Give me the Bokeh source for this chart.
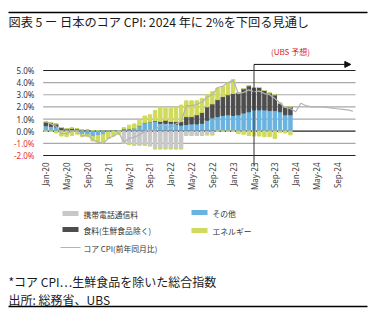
import numpy as np
from bokeh.plotting import figure
from bokeh.models import Range1d, ColumnDataSource, Arrow, NormalHead
from bokeh.embed import file_html
from bokeh.resources import INLINE
from bokeh.core.properties import value

# ---------------- data ----------------
month_names = ["Jan", "Feb", "Mar", "Apr", "May", "Jun", "Jul", "Aug", "Sep", "Oct", "Nov", "Dec"]
years = ["20", "21", "22", "23", "24"]
months = [f"{m}-{y}" for y in years for m in month_names]
shown_labels = ["Jan-20", "May-20", "Sep-20", "Jan-21", "May-21", "Sep-21", "Jan-22", "May-22",
                "Sep-22", "Jan-23", "May-23", "Sep-23", "Jan-24", "May-24", "Sep-24"]

series_names = ["携帯電話通信料", "その他", "食料(生鮮食品除く)", "エネルギー"]
line_name = "コア CPI(前年同月比)"

mobile = [0, 0, 0, 0, 0, 0, 0, 0, 0, 0, 0, 0,
          0, 0, 0, -1.0, -1.1, -1.15, -1.15, -1.15, -1.2, -1.45, -1.45, -1.45,
          -1.45, -1.45, -1.45, -0.35, -0.35, -0.35, -0.35, -0.3, -0.3, 0, 0, 0,
          0, 0, 0, 0, 0, 0, 0, 0, 0, 0, 0, 0]
other = [0.45, 0.4, 0.35, 0.1, 0.05, 0.1, 0.05, -0.25, -0.3, -0.45, -0.35, -0.3,
         -0.1, -0.05, 0.05, 0.2, 0.2, 0.25, 0.45, 0.7, 0.75, 0.8, 0.65, 0.65,
         0.65, 0.55, 0.5, 0.55, 0.6, 0.6, 0.65, 0.9, 1.1, 1.2, 1.3, 1.35,
         1.3, 1.35, 1.5, 1.6, 1.75, 1.75, 1.75, 1.7, 1.7, 1.6, 1.35, 1.35]
food = [0.3, 0.3, 0.25, 0.2, 0.15, 0.15, 0.15, 0.1, 0.1, 0.05, 0.05, 0.0,
        0.0, 0.0, 0.0, 0.0, 0.0, 0.0, 0.0, 0.0, 0.0, 0.05, 0.15, 0.25,
        0.15, 0.25, 0.3, 0.65, 0.6, 0.75, 0.9, 1.1, 1.15, 1.4, 1.55, 1.65,
        1.8, 1.8, 2.0, 2.15, 1.85, 1.85, 1.6, 1.45, 1.3, 0.7, 0.65, 0.65]
energy = [0.05, 0.0, -0.15, -0.4, -0.45, -0.35, -0.25, -0.2, -0.15, -0.35, -0.55, -0.6,
          -0.5, -0.35, -0.25, 0.1, 0.3, 0.35, 0.45, 0.55, 0.6, 0.85, 1.2, 1.0,
          1.1, 1.2, 1.35, 1.3, 1.3, 1.15, 1.15, 1.0, 1.0, 0.95, 0.85, 1.0,
          1.15, -0.2, -0.25, -0.35, -0.4, -0.4, -0.45, -0.45, -0.6, -0.1, -0.15, -0.3]
core_cpi = [0.8, 0.6, 0.4, -0.2, -0.2, 0.0, 0.0, -0.4, -0.3, -0.7, -0.9, -1.0,
            -0.6, -0.4, -0.1, -0.9, -0.6, -0.5, -0.3, 0.0, 0.1, 0.1, 0.5, 0.5,
            0.2, 0.6, 0.8, 2.1, 2.1, 2.2, 2.4, 2.8, 3.0, 3.6, 3.7, 4.0,
            4.2, 3.1, 3.2, 3.4, 3.25, 3.3, 3.1, 3.0, 2.7, 2.3, 1.95, 1.85,
            1.6, 2.3, 2.1, 2.0, 2.0, 2.0, 1.95, 1.9, 1.85, 1.8, 1.75, 1.65]

y_ticks = [-2, -1, 0, 1, 2, 3, 4, 5]
y_tick_labels = ["-2.0%", "-1.0%", "0.0%", "1.0%", "2.0%", "3.0%", "4.0%", "5.0%"]
forecast_start = "May-23"
forecast_label = "(UBS 予想)"
forecast_label_month = "Dec-23"

title_text = "図表 5 ー 日本のコア CPI: 2024 年に 2%を下回る見通し"
note_text = "*コア CPI…生鮮食品を除いた総合指数"
source_text = "出所: 総務省、UBS"

# ---------------- style / layout ----------------
C_MOBILE = "#c8c8c8"
C_OTHER = "#69b3e0"
C_FOOD = "#4d4d4d"
C_ENERGY = "#d0da5c"
C_LINE = "#b4b4b4"
JP = "Noto Sans CJK JP"
LAT = "Noto Sans"
W, H = 387, 321

# page-pixel placement of the plot area (one frame covers the whole canvas)
X0, DX = 45.3, 5.205     # page x of first month's centre, px per month
Y0, DY = 130.7, 12.143   # page y of 0 %, px per 1 %


def cx(px):
    return (px - X0) / DX


def cy(py):
    return (Y0 - py) / DY


idx = {m: i for i, m in enumerate(months)}
n_act = len(mobile)
comp = {"mobile": np.array(mobile), "other": np.array(other),
        "food": np.array(food), "energy": np.array(energy)}
data = {"x": list(range(n_act))}
for k, v in comp.items():
    data["pos_" + k] = np.clip(v, 0, None)
    data["neg_" + k] = np.clip(v, None, 0)
src = ColumnDataSource(data)

p = figure(width=W, height=H, x_range=Range1d(cx(0), cx(W)), y_range=Range1d(cy(H), cy(0)),
           x_axis_type=None, y_axis_type=None, output_backend="svg",
           toolbar_location=None, min_border=0)
p.title.visible = False
p.outline_line_color = None
p.grid.visible = False

# ---- horizontal rules: chart grid lines plus the page's top and bottom rules
left_edge, right_edge = -0.5, len(months) - 0.5
dark = [t in (-2, 0, 5) for t in y_ticks]
rule_x0 = [left_edge] * len(y_ticks) + [cx(8), cx(8)]
rule_x1 = [right_edge] * len(y_ticks) + [cx(367), cx(367)]
rule_y = list(y_ticks) + [cy(12), cy(306)]
rule_c = ["#222222" if d else "#a8a8a8" for d in dark] + ["#000000", "#000000"]
rule_w = [1.2] * len(y_ticks) + [1.4, 1.4]
p.segment(x0=rule_x0, x1=rule_x1, y0=rule_y, y1=rule_y, line_color=rule_c, line_width=rule_w)

# ---- title
p.text(x=[cx(8)], y=[cy(21.5)], text=[title_text], text_baseline="middle", text_align="left",
       text_font=value(JP), text_font_size=value("12.2px"), text_color="#1a1a1a")

# ---- bars
p.vbar_stack(["pos_other", "pos_food", "pos_energy"], x="x", width=0.66,
             color=[C_OTHER, C_FOOD, C_ENERGY], source=src)
p.vbar_stack(["neg_other", "neg_food", "neg_mobile", "neg_energy"], x="x", width=0.66,
             color=[C_OTHER, C_FOOD, C_MOBILE, C_ENERGY], source=src)

# ---- core CPI line
p.line(x=list(range(len(months))), y=core_cpi, line_color=C_LINE, line_width=1.2)

# ---- forecast marker
fx = idx[forecast_start]
p.segment(x0=[fx], y0=[5.5], x1=[fx], y1=[cy(166)], line_color="#333333", line_width=1)
p.add_layout(Arrow(end=NormalHead(size=6, fill_color="#111111", line_color="#111111"),
                   x_start=fx, y_start=5.5, x_end=idx["Nov-24"] + 0.6, y_end=5.5,
                   line_color="#111111", line_width=1))
p.text(x=[idx[forecast_label_month]], y=[6.55], text=[forecast_label], text_align="center",
       text_baseline="middle", text_font=value(JP), text_font_size=value("8px"),
       text_color="#d9261c")

# ---- y tick labels
p.text(x=[cx(34)] * len(y_ticks), y=y_ticks, text=y_tick_labels, text_align="right",
       text_baseline="middle", text_font=value(LAT), text_font_size=value("8px"),
       text_color=["#e8302a" if t < 0 else "#333333" for t in y_ticks])

# ---- x tick labels (vertical)
p.text(x=[idx[m] for m in shown_labels], y=[cy(162)] * len(shown_labels), text=shown_labels,
       angle=np.pi / 2, text_align="right", text_baseline="middle", text_font=value(LAT),
       text_font_size=value("8px"), text_color="#404040")

# ---- legend
sw_px = [(70, 213), (199, 212), (70, 229), (199, 230)]
p.rect(x=[cx(a) for a, b in sw_px], y=[cy(b) for a, b in sw_px], width=16, height=5,
       width_units="screen", height_units="screen",
       fill_color=[C_MOBILE, C_OTHER, C_FOOD, C_ENERGY], line_color=None)
p.line(x=[cx(60), cx(80)], y=[cy(247), cy(247)], line_color=C_LINE, line_width=1)
lab_px = [(83, 213.5), (212, 212.5), (83, 229.5), (212, 231), (83, 247.5)]
p.text(x=[cx(a) for a, b in lab_px], y=[cy(b) for a, b in lab_px],
       text=series_names + [line_name], text_baseline="middle", text_align="left",
       text_font=value(JP), text_font_size=value("7.8px"), text_color="#333333")

# ---- footnote
p.text(x=[cx(8), cx(8)], y=[cy(281), cy(299)], text=[note_text, source_text],
       text_baseline="middle", text_align="left", text_font=value(JP),
       text_font_size=value("12px"), text_color="#1a1a1a")

open("out.html", "w").write(file_html(p, INLINE))
